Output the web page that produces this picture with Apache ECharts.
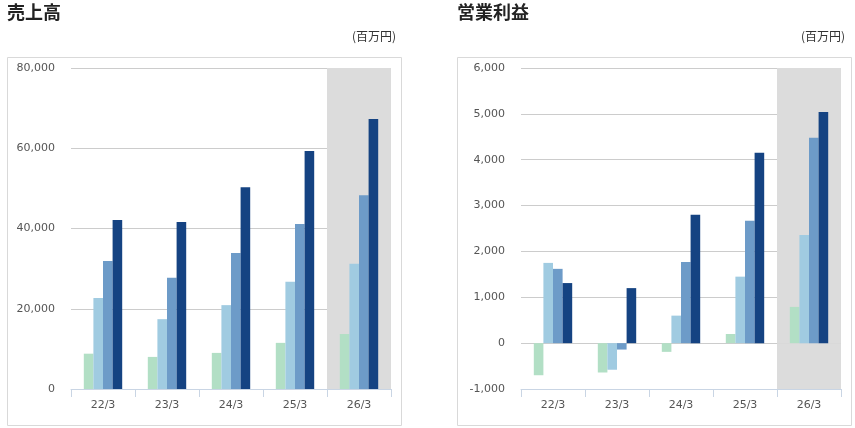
<!DOCTYPE html>
<html lang="ja">
<head>
    <meta charset="UTF-8">
    <title>売上高・営業利益</title>
    <script src="https://cdn.jsdelivr.net/npm/echarts@6.0.0/dist/echarts.min.js"></script>
    <style>
        html, body { margin: 0; padding: 0; background: #fff; }
        #main { width: 855px; height: 428px; }
    </style>
</head>
<body>
    <div id="main"></div>

    <script>
        // 決算期
        var periods = ['22/3', '23/3', '24/3', '25/3', '26/3'];

        // 売上高 (百万円) - 四半期累計 1Q〜4Q
        var salesQ1 = [8800, 8000, 9000, 11500, 13700];
        var salesQ2 = [22700, 17400, 20900, 26700, 31200];
        var salesQ3 = [31900, 27700, 33900, 41100, 48300];
        var salesQ4 = [42100, 41600, 50300, 59300, 67300];

        // 営業利益 (百万円)
        var profitQ1 = [-700, -640, -190, 200, 790];
        var profitQ2 = [1750, -580, 600, 1450, 2360];
        var profitQ3 = [1620, -140, 1770, 2670, 4480];
        var profitQ4 = [1310, 1200, 2800, 4150, 5040];

        // 網掛けする期 (最新期)
        var shadeTop = [null, null, null, null, 80000];
        var shadeTop2 = [null, null, null, null, 6000];
        var shadeBottom2 = [null, null, null, null, -1000];

        var colors = ['#b2dfc5', '#a0cbe1', '#6d9bc8', '#154382'];
        var numFont = 'DejaVu Sans';
        var jpFont = 'Noto Sans CJK JP';

        var myChart = echarts.init(document.getElementById('main'));

        function fmt(v) {
            return v < 0 ? '-' + Math.abs(v).toLocaleString('en-US') : v.toLocaleString('en-US');
        }

        function catAxis(gridIndex) {
            return {
                type: 'category',
                gridIndex: gridIndex,
                data: periods,
                axisLine: { onZero: false, lineStyle: { color: '#c9d5e4', width: 1 } },
                axisTick: { show: true, length: 8, lineStyle: { color: '#c9d5e4' } },
                axisLabel: { color: '#555', fontSize: 11, fontFamily: numFont, margin: 11 },
                z: 5
            };
        }

        function hiddenAxis(gridIndex) {
            return {
                type: 'category',
                gridIndex: gridIndex,
                data: periods,
                show: false
            };
        }

        function valAxis(gridIndex, min, max, step) {
            return {
                type: 'value',
                gridIndex: gridIndex,
                min: min,
                max: max,
                interval: step,
                axisLine: { show: false },
                axisTick: { show: false },
                axisLabel: {
                    color: '#555', fontSize: 11, fontFamily: numFont, margin: 16,
                    formatter: fmt
                },
                splitLine: { lineStyle: { color: '#cccccc', width: 1 } }
            };
        }

        function barSeries(name, data, xi, yi, color) {
            return {
                name: name,
                type: 'bar',
                xAxisIndex: xi,
                yAxisIndex: yi,
                data: data,
                barWidth: 9.6,
                barGap: '0%',
                itemStyle: { color: color },
                z: 3
            };
        }

        function shadeSeries(data, xi, yi) {
            return {
                type: 'bar',
                xAxisIndex: xi,
                yAxisIndex: yi,
                stack: 'shade' + xi,
                data: data,
                barWidth: '100%',
                itemStyle: { color: '#dcdcdc' },
                silent: true,
                z: 0
            };
        }

        var titleStyle = { fontSize: 18, fontWeight: 'bold', color: '#222', fontFamily: jpFont };
        var unitStyle = { fontSize: 12, fontWeight: 'normal', color: '#333', fontFamily: jpFont };

        var option = {
            animation: false,
            title: [
                { text: '売上高', left: 7, top: 3, padding: 0, textStyle: titleStyle },
                { text: '(百万円)', right: 459, top: 30, padding: 0, textStyle: unitStyle },
                { text: '営業利益', left: 457, top: 3, padding: 0, textStyle: titleStyle },
                { text: '(百万円)', right: 10, top: 30, padding: 0, textStyle: unitStyle }
            ],
            graphic: [
                { type: 'rect', shape: { x: 7.5, y: 57.5, width: 394, height: 368 }, style: { fill: 'none', stroke: '#d9d9d9', lineWidth: 1 }, z: -1 },
                { type: 'rect', shape: { x: 457.5, y: 57.5, width: 394, height: 368 }, style: { fill: 'none', stroke: '#d9d9d9', lineWidth: 1 }, z: -1 }
            ],
            grid: [
                { left: 71, right: 464, top: 68, bottom: 39 },
                { left: 521, right: 14, top: 68, bottom: 39 }
            ],
            xAxis: [catAxis(0), catAxis(1), hiddenAxis(0), hiddenAxis(1)],
            yAxis: [valAxis(0, 0, 80000, 20000), valAxis(1, -1000, 6000, 1000)],
            series: [
                shadeSeries(shadeTop, 2, 0),
                shadeSeries(shadeTop2, 3, 1),
                shadeSeries(shadeBottom2, 3, 1),
                barSeries('1Q', salesQ1, 0, 0, colors[0]),
                barSeries('2Q', salesQ2, 0, 0, colors[1]),
                barSeries('3Q', salesQ3, 0, 0, colors[2]),
                barSeries('4Q', salesQ4, 0, 0, colors[3]),
                barSeries('1Q', profitQ1, 1, 1, colors[0]),
                barSeries('2Q', profitQ2, 1, 1, colors[1]),
                barSeries('3Q', profitQ3, 1, 1, colors[2]),
                barSeries('4Q', profitQ4, 1, 1, colors[3])
            ]
        };

        myChart.setOption(option);
    </script>
</body>
</html>
